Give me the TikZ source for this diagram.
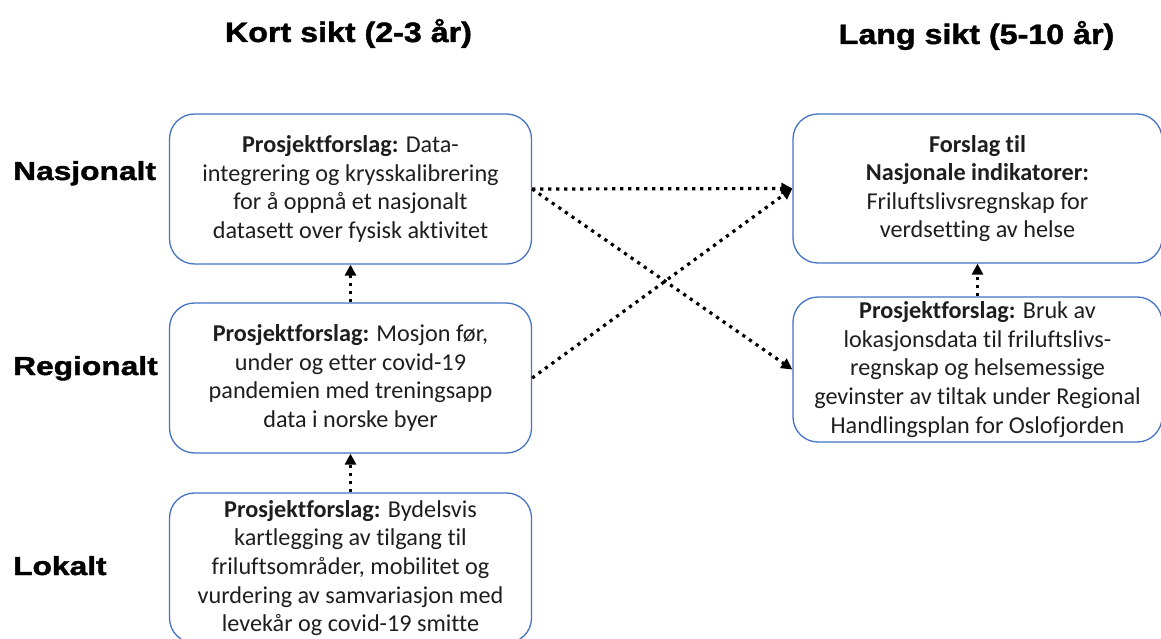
\documentclass[tikz,border=0pt]{standalone}
\usepackage{fontspec}
\usetikzlibrary{arrows.meta}
\newfontfamily\bodyfont[Ligatures=CommonOff]{Carlito}
\newfontfamily\headfont[FakeStretch=1.15,FakeBold=1.5]{Liberation Sans}
\newfontfamily\rowfont[FakeStretch=1.22,FakeBold=1.5]{Liberation Sans}
\definecolor{boxblue}{RGB}{68,114,196}
\definecolor{txt}{RGB}{30,30,30}
\tikzset{
  pbox/.style={draw=boxblue, line width=1.3pt, rounded corners=25pt, align=center,
    text=txt, font=\bodyfont\fontsize{24.2}{28.6}\selectfont, inner sep=0pt},
  hdr/.style={font=\headfont\bfseries\fontsize{28}{30}\selectfont, anchor=base, inner sep=0pt},
  rowlab/.style={font=\rowfont\bfseries\fontsize{26}{28}\selectfont, anchor=base west, inner sep=0pt},
  dotarrow/.style={line width=3.2pt, dash pattern=on 3.2pt off 4.8pt,
    -{Triangle[length=11pt,width=11pt]}, shorten >=0pt}
}
\begin{document}
\begin{tikzpicture}[x=1pt,y=-1pt]
\useasboundingbox (0,0) rectangle (1161,639);
\clip (0,0) rectangle (1161,639);
% headers
\node[hdr] (h1) at (348.5,42) {Kort sikt (2-3 år)};
\node[hdr] (h2) at (976.5,44) {Lang sikt (5-10 år)};
% row labels
\node[rowlab] (r1) at (13,180) {Nasjonalt};
\node[rowlab] (r2) at (13,375) {Regionalt};
\node[rowlab] (r3) at (13,575) {Lokalt};
% boxes
\node[pbox, minimum width=362pt, minimum height=150pt] (A) at (350.5,189)
  {\textbf{Prosjektforslag:} Data-\\integrering og krysskalibrering\\for å oppnå et nasjonalt\\datasett over fysisk aktivitet};
\node[pbox, minimum width=362pt, minimum height=150pt] (B) at (350.5,378)
  {\textbf{Prosjektforslag:} Mosjon før,\\under og etter covid-19\\pandemien med treningsapp\\data i norske byer};
\node[pbox, minimum width=362pt, minimum height=150pt] (C) at (350.5,568)
  {\textbf{Prosjektforslag:} Bydelsvis\\kartlegging av tilgang til\\friluftsområder, mobilitet og\\vurdering av samvariasjon med\\levekår og covid-19 smitte};
\node[pbox, minimum width=369pt, minimum height=149pt] (D) at (977.5,188.5)
  {\textbf{Forslag til}\\\textbf{Nasjonale indikatorer:}\\Friluftslivsregnskap for\\verdsetting av helse};
\node[pbox, minimum width=369pt, minimum height=145pt] (E) at (977.5,369.5)
  {\textbf{Prosjektforslag:} Bruk av\\lokasjonsdata til friluftslivs-\\regnskap og helsemessige\\gevinster av tiltak under Regional\\Handlingsplan for Oslofjorden};
% connectors
\draw[dotarrow] (A.east) -- (D.west);
\draw[dotarrow] (A.east) -- (E.west);
\draw[dotarrow] (B.east) -- (D.west);
\draw[dotarrow] (B.north) -- (A.south);
\draw[dotarrow] (C.north) -- (B.south);
\draw[dotarrow] (E.north) -- (D.south);
\end{tikzpicture}
\end{document}
